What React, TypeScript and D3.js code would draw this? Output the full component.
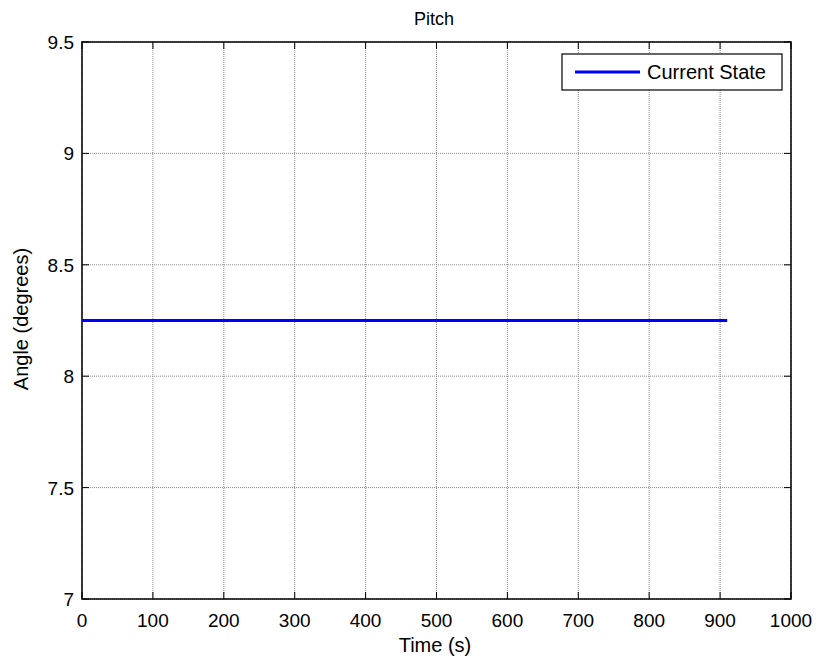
import React from "react";
import * as d3 from "d3";

const title = "Pitch";
const xLabel = "Time (s)";
const yLabel = "Angle (degrees)";
const xTicks = [0, 100, 200, 300, 400, 500, 600, 700, 800, 900, 1000];
const yTicks = [7, 7.5, 8, 8.5, 9, 9.5];
const seriesName = "Current State";
const seriesTime = [0, 910];
const seriesAngle = [8.25, 8.25];

const W = 819, H = 662;
const M = { left: 82, right: 791, top: 42, bottom: 599 };

export default function App() {
  const x = d3.scaleLinear().domain([0, 1000]).range([M.left, M.right]);
  const y = d3.scaleLinear().domain([7, 9.5]).range([M.bottom, M.top]);
  const pts = seriesTime.map((t, i) => [t, seriesAngle[i]] as [number, number]);
  const line = d3.line<[number, number]>().x(d => x(d[0])).y(d => y(d[1]));
  const font = "Arial, 'Liberation Sans', sans-serif";
  return (
    <svg width={W} height={H} style={{ position: "absolute", left: 0, top: 0, background: "#fff" }}>
      <rect x={0} y={0} width={W} height={H} fill="#fff" />
      {xTicks.map(t => (
        <line key={"gx" + t} x1={x(t)} x2={x(t)} y1={M.top} y2={M.bottom} stroke="#888" strokeWidth={1} strokeDasharray="1,1" />
      ))}
      {yTicks.map(t => (
        <line key={"gy" + t} x1={M.left} x2={M.right} y1={y(t)} y2={y(t)} stroke="#888" strokeWidth={1} strokeDasharray="1,1" />
      ))}
      {xTicks.map(t => (
        <g key={"tx" + t}>
          <line x1={x(t)} x2={x(t)} y1={M.bottom} y2={M.bottom - 7} stroke="#000" />
          <line x1={x(t)} x2={x(t)} y1={M.top} y2={M.top + 7} stroke="#000" />
          <text x={x(t)} y={627} textAnchor="middle" fontFamily={font} fontSize={19}>{t}</text>
        </g>
      ))}
      {yTicks.map(t => (
        <g key={"ty" + t}>
          <line x1={M.left} x2={M.left + 7} y1={y(t)} y2={y(t)} stroke="#000" />
          <line x1={M.right} x2={M.right - 7} y1={y(t)} y2={y(t)} stroke="#000" />
          <text x={74} y={y(t) + 7} textAnchor="end" fontFamily={font} fontSize={19}>{t}</text>
        </g>
      ))}
      <rect x={M.left} y={M.top} width={M.right - M.left} height={M.bottom - M.top} fill="none" stroke="#000" strokeWidth={1.5} />
      <path d={line(pts) || ""} fill="none" stroke="#0000ff" strokeWidth={3} />
      <g>
        <rect x={562} y={54} width={220} height={36} fill="#fff" stroke="#000" strokeWidth={1.2} />
        <line x1={575} x2={640} y1={72} y2={72} stroke="#0000ff" strokeWidth={3} />
        <text x={647} y={79} fontFamily={font} fontSize={20}>{seriesName}</text>
      </g>
      <text x={434} y={25} textAnchor="middle" fontFamily={font} fontSize={18}>{title}</text>
      <text x={435} y={652} textAnchor="middle" fontFamily={font} fontSize={20}>{xLabel}</text>
      <text transform={`translate(28, 319) rotate(-90)`} textAnchor="middle" fontFamily={font} fontSize={20}>{yLabel}</text>
    </svg>
  );
}
